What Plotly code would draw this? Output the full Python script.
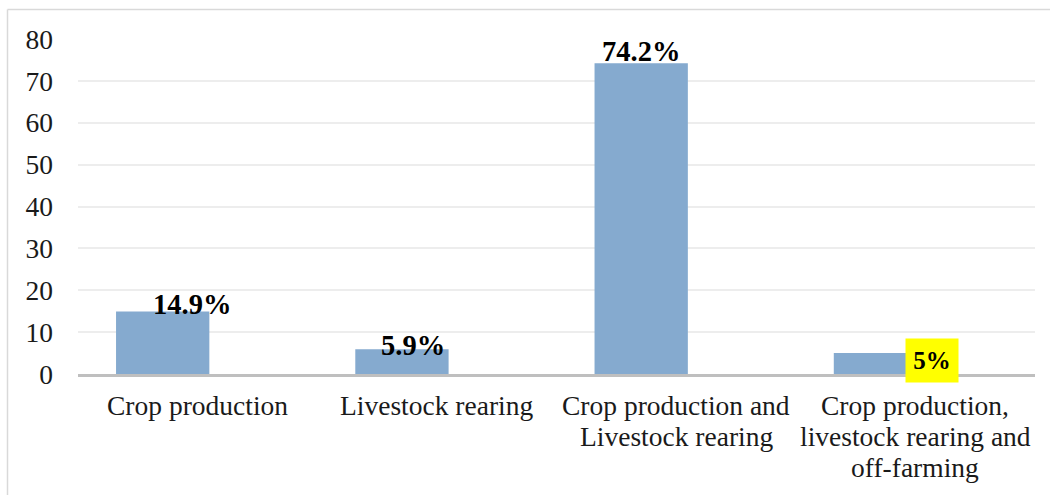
import plotly.graph_objects as go

# Main activity of households (% of respondents)
categories = [
    "Crop production",
    "Livestock rearing",
    "Crop production and<br>Livestock rearing",
    "Crop production,<br>livestock rearing and<br>off-farming",
]
shares = [14.9, 5.9, 74.2, 5.0]
value_labels = ["14.9%", "5.9%", "74.2%", "5%"]
y_ticks = [0, 10, 20, 30, 40, 50, 60, 70, 80]

# Layout / style settings
W, H = 1050, 495
M_L, M_R, M_T, M_B = 78, 15, 39, 120.5
BAR_COLOR = "#85AACF"
TEXT_COLOR = "#1A1A1A"
FONT = "Liberation Serif, Times New Roman, serif"
TICK_SIZE = 27.5
BAR_OFFSET = -0.341   # bars sit left of the category centre
BAR_WIDTH = 0.39
# per-label pixel nudges (x, y) relative to the bar's top centre
label_xshift = [29.5, 11.5, 0, 51.5]
label_yshift = [7, 4, 12, -7.5]
# category text: first line centre below the axis, and line pitch (px)
CAT_FIRST_LINE = 31.2
CAT_LINE_PITCH = 31.0

x_pos = list(range(len(categories)))

fig = go.Figure()
fig.add_trace(go.Bar(
    x=x_pos,
    y=shares,
    width=BAR_WIDTH,
    offset=BAR_OFFSET,
    marker=dict(color=BAR_COLOR, line=dict(width=0)),
    hoverinfo="skip",
))

bar_mid = BAR_OFFSET + BAR_WIDTH / 2
for i, (v, lab) in enumerate(zip(shares, value_labels)):
    last = i == len(shares) - 1
    ann = dict(
        x=i + bar_mid, y=v, xref="x", yref="y",
        text=f"<b>{lab}</b>",
        showarrow=False,
        xanchor="center", yanchor="middle",
        xshift=label_xshift[i], yshift=label_yshift[i],
        font=dict(family=FONT, size=25 if last else 28.5, color="#000000"),
    )
    if last:
        ann.update(bgcolor="#FFFF00", width=52, height=43, borderpad=0)
    fig.add_annotation(**ann)

# category names under the axis, one text line per annotation so the
# line pitch can be set tighter than plotly's default tick label spacing
for i, cat in enumerate(categories):
    for j, line in enumerate(cat.split("<br>")):
        fig.add_annotation(
            x=i, y=0, xref="x", yref="paper",
            text=line, showarrow=False,
            xanchor="center", yanchor="middle",
            yshift=-(CAT_FIRST_LINE + j * CAT_LINE_PITCH),
            font=dict(family=FONT, size=TICK_SIZE, color=TEXT_COLOR),
        )

# outer chart frame (open at the right and bottom edges)
pw = W - M_L - M_R
ph = H - M_T - M_B
fx0 = (7.5 - M_L) / pw
fy1 = 1 + (M_T - 9.5) / ph
fig.add_shape(type="line", xref="paper", yref="paper",
              x0=fx0, x1=(W + 5 - M_L) / pw, y0=fy1, y1=fy1,
              line=dict(color="#D9D9D9", width=1.5))
fig.add_shape(type="line", xref="paper", yref="paper",
              x0=fx0, x1=fx0, y0=fy1, y1=-(M_B + 5) / ph,
              line=dict(color="#D9D9D9", width=1.5))

fig.update_layout(
    width=W, height=H,
    margin=dict(l=M_L, r=M_R, t=M_T, b=M_B, pad=0, autoexpand=False),
    paper_bgcolor="white", plot_bgcolor="white",
    showlegend=False,
    font=dict(family=FONT, size=TICK_SIZE, color=TEXT_COLOR),
    xaxis=dict(
        range=[-0.5, len(categories) - 0.5],
        tickvals=x_pos, showticklabels=False,
        showgrid=False, zeroline=False,
        showline=True, linecolor="#BFBFBF", linewidth=3,
        ticks="", automargin=False,
        fixedrange=True,
    ),
    yaxis=dict(
        range=[0, 80],
        tickvals=y_ticks,
        showgrid=True, gridcolor="#EDEDED", gridwidth=1.5,
        zeroline=False, showline=False,
        ticks="", ticklabelstandoff=24, automargin=False,
        tickfont=dict(family=FONT, size=TICK_SIZE, color=TEXT_COLOR),
        fixedrange=True,
    ),
)

fig.write_html("out.html", config={"displayModeBar": False})
